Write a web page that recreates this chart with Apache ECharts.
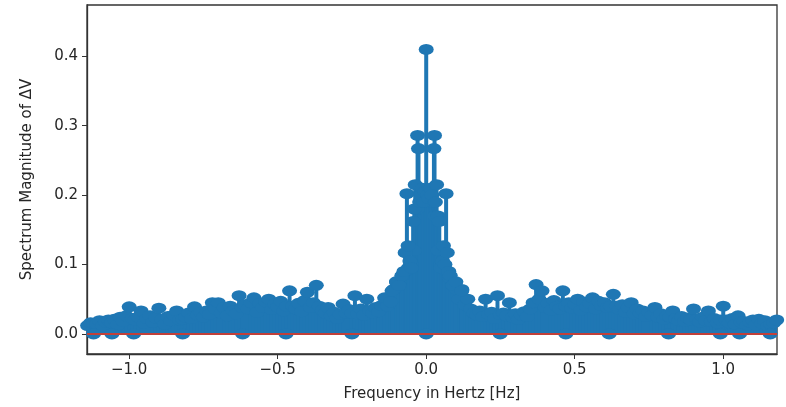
<!DOCTYPE html>
<html>
<head>
<meta charset="utf-8">
<script src="https://cdn.jsdelivr.net/npm/echarts@6/dist/echarts.min.js"></script>
<style>
html,body{margin:0;padding:0;background:#fff;}
#chart{width:786px;height:407px;}
</style>
</head>
<body>
<div id="chart"></div>
<script>
// Frequency bins of the background spectrum (Hz): start and bin width
const freqStart = -1.16;
const freqStep = 0.01;
// Spectrum magnitude for each bin
const gridVals = [
0.018,0.022,0.012,0.016,0.015,0.014,0.019,0.011,0.017,0.02,
0.016,0.021,0.013,0.024,0.018,0.026,0.039,0.022,0.02,0.024,
0.033,0.015,0.022,0.026,0.017,0.023,0.037,0.021,0.014,0.025,
0.019,0.027,0.033,0.02,0.021,0.024,0.03,0.022,0.039,0.027,
0.031,0.024,0.033,0.028,0.045,0.036,0.045,0.03,0.038,0.026,
0.04,0.033,0.029,0.055,0.038,0.042,0.036,0.045,0.052,0.031,
0.044,0.038,0.046,0.05,0.035,0.043,0.039,0.047,0.033,0.04,
0.062,0.04,0.036,0.044,0.032,0.048,0.06,0.038,0.045,0.07,
0.04,0.034,0.03,0.038,0.026,0.031,0.022,0.028,0.043,0.03,
0.035,0.03,0.055,0.029,0.036,0.027,0.05,0.033,0.03,0.038,
0.032,0.041,0.052,0.04,0.046,0.064,0.075,0.07,0.084,0.09,
0.095,0.1,0.12,0.18,0.19,0.2,0.2,0.195,0.19,0.17,
0.12,0.1,0.095,0.09,0.08,0.07,0.065,0.05,0.064,0.042,
0.05,0.036,0.03,0.027,0.033,0.025,0.05,0.028,0.031,0.022,
0.055,0.028,0.03,0.026,0.045,0.024,0.029,0.021,0.027,0.032,
0.025,0.036,0.045,0.071,0.05,0.062,0.038,0.044,0.034,0.048,
0.04,0.036,0.062,0.04,0.045,0.037,0.043,0.05,0.034,0.046,
0.039,0.044,0.052,0.036,0.047,0.041,0.045,0.038,0.04,0.057,
0.04,0.035,0.042,0.031,0.038,0.045,0.029,0.036,0.03,0.033,
0.025,0.031,0.027,0.038,0.024,0.029,0.021,0.026,0.024,0.033,
0.022,0.019,0.025,0.018,0.023,0.02,0.036,0.021,0.017,0.024,
0.019,0.033,0.018,0.022,0.016,0.02,0.04,0.02,0.016,0.022,
0.014,0.026,0.017,0.018,0.012,0.017,0.02,0.013,0.021,0.015,
0.019,0.011,0.014,0.016,0.02,0.015
];
// Tall stems of the central peak
const centerFreqs = [-0.115,-0.1,-0.092,-0.082,-0.075,-0.071,-0.065,-0.061,-0.055,-0.05,-0.044,-0.04,-0.037,-0.029,-0.026,-0.022,-0.018,-0.013,-0.008,-0.004,0,0.005,0.009,0.014,0.019,0.026,0.028,0.031,0.035,0.04,0.044,0.05,0.055,0.058,0.063,0.067,0.071,0.076,0.081,0.09,0.1,0.12];
const centerVals  = [0.062,0.075,0.07,0.084,0.09,0.117,0.202,0.127,0.105,0.095,0.162,0.18,0.215,0.286,0.267,0.19,0.2,0.21,0.19,0.205,0.41,0.2,0.195,0.21,0.2,0.267,0.286,0.19,0.215,0.17,0.162,0.095,0.105,0.127,0.1,0.202,0.117,0.09,0.084,0.07,0.075,0.062];
// Near-zero bins (markers sitting on the baseline)
const zeroFreqs = [-1.12,-1.058,-0.985,-0.82,-0.618,-0.472,-0.25,0.0,0.249,0.47,0.616,0.816,0.99,1.055,1.158];
const zeroVals  = [0,0,0,0,0,0,0,0,0,0,0,0,0,0,0];
// Axis ticks
const xTicks = [-1.0,-0.5,0.0,0.5,1.0];
const yTicks = [0.0,0.1,0.2,0.3,0.4];
const baselineValue = 0;

const points = [];
gridVals.forEach((v,i)=>points.push([+(freqStart + i*freqStep).toFixed(3), v]));
centerFreqs.forEach((f,i)=>points.push([f, centerVals[i]]));
const zeroPoints = zeroFreqs.map((f,i)=>[f, zeroVals[i]]);

const fmt = v => v.toFixed(1).replace('-', '\u2212');
const font = 'DejaVu Sans';
const blue = '#1f77b4';
const ink = '#262626';

const chart = echarts.init(document.getElementById('chart'), null, {renderer:'canvas'});
chart.setOption({
  animation:false,
  backgroundColor:'#fff',
  grid:{left:87,right:9,top:5,bottom:50,show:true,borderColor:'#333',borderWidth:1.3,backgroundColor:'transparent'},
  xAxis:{
    type:'value',min:-1.142,max:1.181,
    name:'Frequency in Hertz [Hz]',nameLocation:'middle',nameGap:33,
    nameTextStyle:{fontFamily:font,fontSize:15,color:ink},
    axisLine:{show:true,onZero:false,lineStyle:{color:'#333',width:1.3}},
    axisTick:{show:true,length:5,customValues:xTicks,lineStyle:{color:'#333'}},
    axisLabel:{customValues:xTicks,formatter:fmt,fontFamily:font,fontSize:15,color:ink,margin:9},
    splitLine:{show:false}
  },
  yAxis:{
    type:'value',min:-0.029,max:0.474,
    name:'Spectrum Magnitude of \u0394V',nameLocation:'middle',nameGap:52,
    nameTextStyle:{fontFamily:font,fontSize:15,color:ink},
    axisLine:{show:true,onZero:false,lineStyle:{color:'#333',width:1.3}},
    axisTick:{show:true,length:5,customValues:yTicks,lineStyle:{color:'#333'}},
    axisLabel:{customValues:yTicks,formatter:fmt,fontFamily:font,fontSize:15,color:ink,margin:9},
    splitLine:{show:false}
  },
  series:[
    {type:'bar',data:points,barWidth:4,itemStyle:{color:blue},z:2,clip:true,silent:true},
    {type:'scatter',data:points,symbol:'circle',symbolSize:[15,11],itemStyle:{color:blue,opacity:1},z:3,clip:true,silent:true},
    {type:'scatter',data:zeroPoints,symbol:'circle',symbolSize:[15,11],itemStyle:{color:blue,opacity:1},z:3,clip:true,silent:true},
    {type:'line',data:[],z:5,silent:true,
     markLine:{silent:true,symbol:['none','none'],label:{show:false},
       lineStyle:{color:'#c0403a',width:2,type:'solid'},
       data:[{yAxis:baselineValue}]}}
  ]
});
</script>
</body>
</html>
